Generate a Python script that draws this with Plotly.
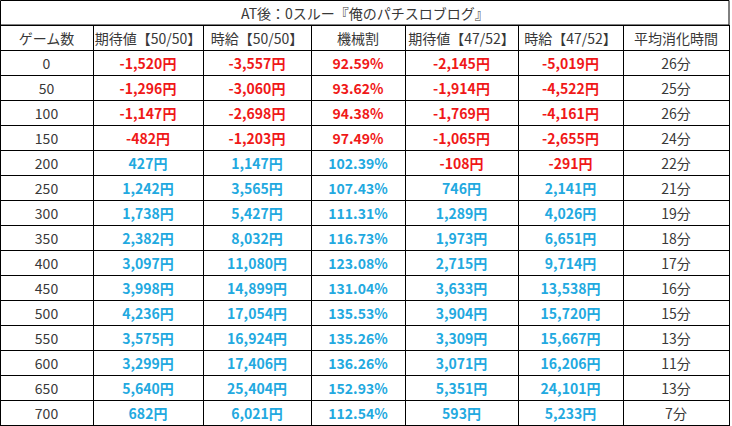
import plotly.graph_objects as go

W, H = 732, 426
title_text = "AT後：0スルー『俺のパチスロブログ』"

col_names = ["ゲーム数", "期待値【50/50】", "時給【50/50】", "機械割",
             "期待値【47/52】", "時給【47/52】", "平均消化時間"]

games = [0, 50, 100, 150, 200, 250, 300, 350, 400, 450, 500, 550, 600, 650, 700]
ev_5050 = [-1520, -1296, -1147, -482, 427, 1242, 1738, 2382, 3097, 3998,
           4236, 3575, 3299, 5640, 682]
wage_5050 = [-3557, -3060, -2698, -1203, 1147, 3565, 5427, 8032, 11080, 14899,
             17054, 16924, 17406, 25404, 6021]
payout = [92.59, 93.62, 94.38, 97.49, 102.39, 107.43, 111.31, 116.73, 123.08,
          131.04, 135.53, 135.26, 136.26, 152.93, 112.54]
ev_4752 = [-2145, -1914, -1769, -1065, -108, 746, 1289, 1973, 2715, 3633,
           3904, 3309, 3071, 5351, 593]
wage_4752 = [-5019, -4522, -4161, -2655, -291, 2141, 4026, 6651, 9714, 13538,
             15720, 15667, 16206, 24101, 5233]
minutes = [26, 25, 26, 24, 22, 21, 19, 18, 17, 16, 15, 13, 11, 13, 7]

RED = "#f01818"
BLUE = "#22a9e0"
GRAY = "#383838"
FONT = "Noto Sans CJK JP"


def yen(v):
    return f"{v:,}円"


def pick(vals, limit=0):
    return [RED if v < limit else BLUE for v in vals]


cell_values = [
    [str(g) for g in games],
    [yen(v) for v in ev_5050],
    [yen(v) for v in wage_5050],
    [f"{v:.2f}%" for v in payout],
    [yen(v) for v in ev_4752],
    [yen(v) for v in wage_4752],
    [f"{m}分" for m in minutes],
]
cell_colors = [
    [GRAY] * len(games),
    pick(ev_5050),
    pick(wage_5050),
    pick(payout, 100),
    pick(ev_4752),
    pick(wage_4752),
    [GRAY] * len(minutes),
]
cell_weights = ["normal", "bold", "bold", "bold", "bold", "bold", "normal"]
col_widths = [93, 110, 108, 94, 113, 105, 106]

row_h = 25
xr = 729 / W
tbl_top = 1 - row_h / H

fig = go.Figure()

fig.add_trace(go.Table(
    domain=dict(x=[0, xr], y=[0, tbl_top]),
    columnwidth=col_widths,
    header=dict(values=col_names, height=row_h, align="center",
                fill_color="white", line=dict(color="black", width=1),
                font=dict(family=FONT, size=14, color=GRAY)),
    cells=dict(values=cell_values, height=row_h, align="center",
               fill_color="white", line=dict(color="black", width=1),
               font=dict(family=FONT, size=14, color=cell_colors,
                         weight=cell_weights)),
))

# title row spanning all columns
fig.add_shape(type="rect", xref="paper", yref="paper",
              x0=0.5 / W, x1=xr, y0=1 - row_h / H, y1=1 - 0.5 / H,
              line=dict(color="black", width=1), fillcolor="white")
fig.add_annotation(text=title_text, xref="paper", yref="paper",
                   x=xr / 2, y=1 - row_h / 2 / H, showarrow=False,
                   xanchor="center", yanchor="middle",
                   font=dict(family=FONT, size=14, color=GRAY))

fig.update_layout(width=W, height=H, margin=dict(l=0, r=0, t=0, b=0),
                  paper_bgcolor="white")

# page body has an 8px default margin; drop it so the table sits at 0,0
fig.write_html("out.html", config=dict(displayModeBar=False),
               post_script="document.body.style.margin='0';")
